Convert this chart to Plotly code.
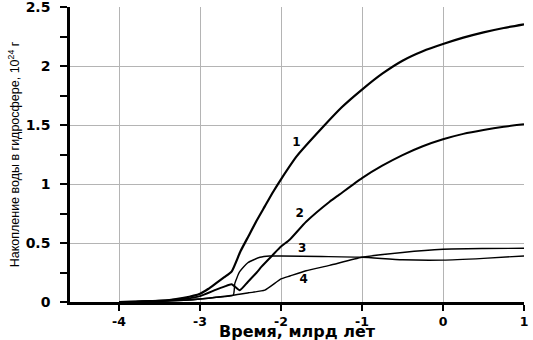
import plotly.graph_objects as go

# Curve 1
x1 = [-4.0, -3.8, -3.6, -3.4, -3.2, -3.0, -2.9, -2.8, -2.7, -2.61, -2.5, -2.4, -2.3, -2.2,
      -2.1, -2.0, -1.8, -1.5, -1.25, -1.0, -0.75, -0.5, -0.25, 0.0, 0.25, 0.5, 0.75, 1.0]
y1 = [0.0, 0.003, 0.008, 0.015, 0.035, 0.07, 0.11, 0.16, 0.21, 0.257, 0.43, 0.56, 0.69, 0.81,
      0.93, 1.04, 1.24, 1.47, 1.65, 1.80, 1.935, 2.045, 2.125, 2.186, 2.24, 2.285, 2.322, 2.353]

# Curve 2
x2 = [-4.0, -3.8, -3.5, -3.2, -3.0, -2.8, -2.7, -2.61, -2.51, -2.41, -2.3, -2.24, -2.1,
      -2.0, -1.89, -1.69, -1.4, -1.28, -1.0, -0.75, -0.5, -0.25, 0.0, 0.25, 0.5, 0.75, 1.0]
y2 = [0.0, 0.003, 0.01, 0.025, 0.05, 0.105, 0.13, 0.15, 0.10, 0.17, 0.25, 0.30, 0.40,
      0.47, 0.53, 0.68, 0.85, 0.91, 1.05, 1.155, 1.245, 1.32, 1.379, 1.425, 1.458, 1.485, 1.506]

# Curve 3
x3 = [-4.0, -3.8, -3.5, -3.2, -3.0, -2.8, -2.59, -2.57, -2.51, -2.41, -2.26, -2.14, -2.0,
      -1.5, -1.0, -0.5, 0.0, 0.5, 1.0]
y3 = [0.0, 0.002, 0.006, 0.015, 0.025, 0.04, 0.057, 0.158, 0.257, 0.333, 0.379, 0.39, 0.39,
      0.385, 0.379, 0.358, 0.355, 0.37, 0.39]

# Curve 4
x4 = [-4.0, -3.8, -3.5, -3.2, -3.0, -2.8, -2.59, -2.4, -2.2, -2.0, -1.89, -1.69, -1.4,
      -1.0, -0.5, 0.0, 0.5, 1.0]
y4 = [0.0, 0.002, 0.006, 0.015, 0.025, 0.04, 0.057, 0.078, 0.10, 0.195, 0.22, 0.265, 0.31,
      0.379, 0.42, 0.447, 0.453, 0.455]

curve_labels = ["1", "2", "3", "4"]
label_x = [-1.81, -1.77, -1.74, -1.72]
label_y = [1.35, 0.75, 0.45, 0.19]

x_title = "Время, млрд лет"
y_title = "Накопление воды в гидросфере, 10<sup>24</sup> г"

fig = go.Figure()
for xs, ys, w in [(x1, y1, 2.2), (x2, y2, 2.0), (x3, y3, 1.4), (x4, y4, 1.4)]:
    fig.add_trace(go.Scatter(x=xs, y=ys, mode="lines",
                             line=dict(color="black", width=w, shape="spline", smoothing=0.5),
                             showlegend=False))

fig.add_trace(go.Scatter(x=label_x, y=label_y, mode="text", text=curve_labels,
                         textfont=dict(family="DejaVu Sans", size=12, color="black",
                                       weight="bold"),
                         showlegend=False))

fig.add_annotation(text=x_title, xref="paper", yref="paper", x=0.5, y=-0.101,
                   xanchor="center", yanchor="middle", showarrow=False,
                   font=dict(family="DejaVu Sans", size=16, color="black", weight="bold"))

fig.update_layout(
    width=533, height=340,
    margin=dict(l=70, r=9, t=7, b=38),
    paper_bgcolor="white", plot_bgcolor="white",
    xaxis=dict(
        range=[-4.605, 1.0], tickvals=[-4, -3, -2, -1, 0, 1],
        ticktext=["-4", "-3", "-2", "-1", "0", "1"],
        automargin=False,
        showgrid=True, gridcolor="#b4b4b4", gridwidth=1,
        showline=True, linecolor="black", linewidth=2.5,
        ticks="outside", ticklen=6, tickwidth=2, tickcolor="black",
        ticklabelstandoff=0, ticklabeloverflow="allow",
        tickfont=dict(family="DejaVu Sans", size=12.5, color="black", weight="bold"),
        zeroline=False,
    ),
    yaxis=dict(
        range=[0, 2.5], tickvals=[0, 0.5, 1, 1.5, 2, 2.5],
        ticktext=["0", "0.5", "1", "1.5", "2", "2.5"],
        automargin=False,
        showgrid=True, gridcolor="#b4b4b4", gridwidth=1,
        showline=True, linecolor="black", linewidth=2.5,
        ticks="outside", ticklen=7, tickwidth=2, tickcolor="black",
        ticklabelstandoff=7, ticklabeloverflow="allow",
        minor=dict(dtick=0.25, tick0=0, ticks="outside", ticklen=7, tickwidth=2,
                   tickcolor="black", showgrid=False),
        tickfont=dict(family="DejaVu Sans", size=14, color="black", weight="bold"),
        zeroline=False,
        title=dict(text=y_title, standoff=4,
                   font=dict(family="Liberation Sans", size=12.5, color="black")),
    ),
)

fig.write_html("out.html")
